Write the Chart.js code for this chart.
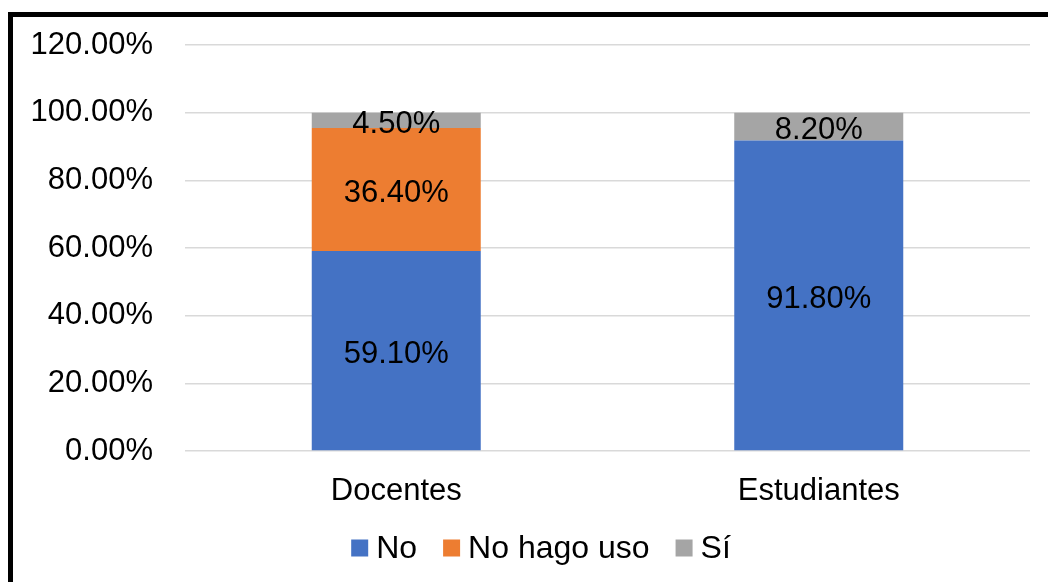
<!DOCTYPE html>
<html lang="es">
<head>
<meta charset="UTF-8">
<title>Uso</title>
<script src="https://cdn.jsdelivr.net/npm/chart.js"></script>
<style>
    html, body { margin: 0; padding: 0; background: #fff; overflow: hidden; }
    .marco {
        position: absolute; left: 8px; top: 12px;
        width: 1200px; height: 700px;
        border: 5px solid #000;
    }
    .grafico { position: absolute; left: 0; top: 0; width: 1048px; height: 582px; }
</style>
</head>
<body>
<div class="marco"></div>
<div class="grafico"><canvas id="grafico_uso"></canvas></div>

<script>
    // datos
    let categorias = ['Docentes', 'Estudiantes']
    let serieNo = [59.1, 91.8]
    let serieNoHagoUso = [36.4, 0]
    let serieSi = [4.5, 8.2]
    let nombresSeries = ['No', 'No hago uso', 'Sí']
    let coloresSeries = ['#4472C4', '#ED7D31', '#A5A5A5']

    const fuente = 'Arial, "Liberation Sans", sans-serif'
    const tam = 31

    // etiquetas de valor dentro de las barras
    const etiquetas = {
        id: 'etiquetas',
        afterDatasetsDraw(chart) {
            const ctx = chart.ctx
            ctx.save()
            ctx.font = tam + 'px ' + fuente
            ctx.fillStyle = '#000'
            ctx.textAlign = 'center'
            ctx.textBaseline = 'middle'
            chart.data.datasets.forEach(function (ds, i) {
                chart.getDatasetMeta(i).data.forEach(function (bar, j) {
                    let v = ds.data[j]
                    if (!v) return
                    ctx.fillText(v.toFixed(2) + '%', bar.x, (bar.y + bar.base) / 2 + 4)
                })
            })
            ctx.restore()
        }
    }

    // leyenda abajo, estilo Excel (cuadro pegado al texto)
    const leyenda = {
        id: 'leyenda',
        afterDraw(chart) {
            const ctx = chart.ctx
            ctx.save()
            ctx.font = '32px ' + fuente
            ctx.textBaseline = 'middle'
            let caja = 17, sep = 8, hueco = 26
            let items = chart.data.datasets.map(function (ds) {
                return { t: ds.label, c: ds.backgroundColor, w: caja + sep + ctx.measureText(ds.label).width }
            })
            let total = items.reduce(function (a, b) { return a + b.w }, 0) + hueco * (items.length - 1)
            let x = chart.width / 2 + 17 - total / 2
            let y = 548
            items.forEach(function (it) {
                ctx.fillStyle = it.c
                ctx.fillRect(x, y - caja / 2, caja, caja)
                ctx.fillStyle = '#000'
                ctx.fillText(it.t, x + caja + sep, y + 1)
                x += it.w + hueco
            })
            ctx.restore()
        }
    }

    let series = [serieNo, serieNoHagoUso, serieSi]
    let dados = {
        labels: categorias,
        datasets: series.map(function (s, i) {
            return {
                label: nombresSeries[i],
                data: s,
                backgroundColor: coloresSeries[i],
                categoryPercentage: 1,
                barPercentage: 0.4
            }
        })
    }

    const config = {
        type: 'bar',
        data: dados,
        options: {
            responsive: true,
            maintainAspectRatio: false,
            animation: false,
            layout: { padding: { top: 45, right: 18, left: 0, bottom: 61 } },
            plugins: {
                tooltip: { enabled: false },
                legend: { display: false }
            },
            scales: {
                x: {
                    stacked: true,
                    grid: { display: false },
                    border: { display: false },
                    ticks: { color: '#000', font: { family: fuente, size: tam }, padding: 14 },
                    afterFit(scale) { scale.height = 70 }
                },
                y: {
                    stacked: true,
                    min: 0,
                    max: 120,
                    grid: { color: '#d9d9d9', lineWidth: 1.5, drawTicks: false },
                    border: { display: false },
                    ticks: {
                        stepSize: 20,
                        color: '#000',
                        font: { family: fuente, size: tam },
                        padding: 32,
                        callback: function (v) { return v.toFixed(2) + '%' }
                    },
                    afterFit(scale) {
                        scale.width = 185
                        scale.paddingTop = 0
                        scale.paddingBottom = 0
                    }
                }
            }
        },
        plugins: [etiquetas, leyenda]
    }

    let myChart = new Chart(document.getElementById('grafico_uso'), config)
</script>
</body>
</html>
